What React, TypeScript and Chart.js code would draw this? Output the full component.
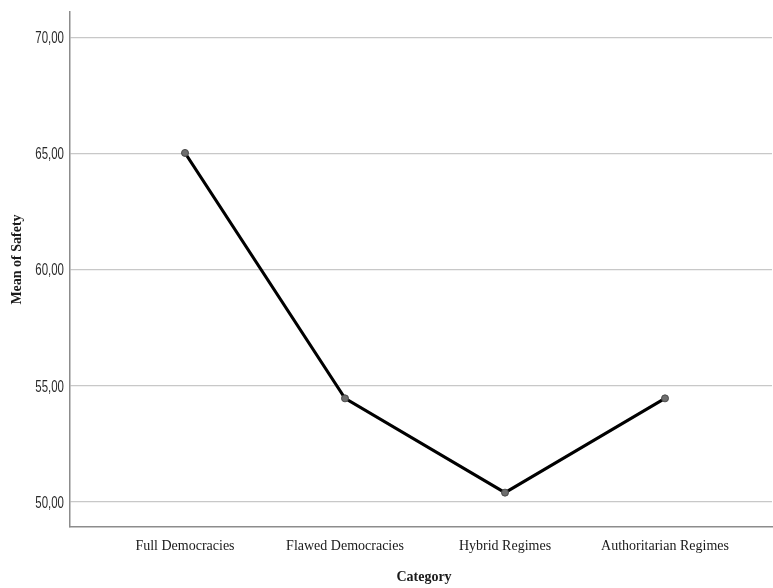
import React, { useEffect, useRef } from "react";
import { Chart, registerables } from "chart.js";

Chart.register(...registerables);

const categories = ["Full Democracies", "Flawed Democracies", "Hybrid Regimes", "Authoritarian Regimes"];
const meanSafety = [65.03, 54.46, 50.4, 54.46];
const yTicks = [50, 55, 60, 65, 70];
const xTitle = "Category";
const yTitle = "Mean of Safety";

const textPlugin = {
  id: "spssText",
  afterDraw(chart: any) {
    const ctx = chart.ctx as CanvasRenderingContext2D;
    const y = chart.scales.y;
    const x = chart.scales.x;
    // y tick labels, condensed
    ctx.save();
    ctx.fillStyle = "#2a2a2a";
    ctx.font = "17px 'Liberation Sans', sans-serif";
    ctx.textAlign = "right";
    ctx.textBaseline = "middle";
    for (const t of y.ticks) {
      const py = y.getPixelForValue(t.value);
      const label = Number(t.value).toFixed(2).replace(".", ",");
      ctx.save();
      ctx.translate(y.right - 6, py);
      ctx.scale(0.675, 1);
      ctx.fillText(label, 0, 1);
      ctx.restore();
    }
    ctx.restore();
    // titles
    ctx.save();
    ctx.fillStyle = "#1a1a1a";
    ctx.font = "bold 14px 'Liberation Serif', serif";
    ctx.textAlign = "center";
    ctx.textBaseline = "middle";
    ctx.fillText(xTitle, (x.left + x.right) / 2 + 3, 577);
    ctx.translate(17, (y.top + y.bottom) / 2 - 10);
    ctx.rotate(-Math.PI / 2);
    ctx.fillText(yTitle, 0, 0);
    ctx.restore();
  },
};

export default function App() {
  const ref = useRef<HTMLCanvasElement | null>(null);
  useEffect(() => {
    document.body.style.margin = "0";
    const ctx = ref.current!;
    const chart = new Chart(ctx, {
      type: "line",
      data: {
        datasets: [
          {
            data: meanSafety.map((v, i) => ({ x: i, y: v })),
            borderColor: "#000000",
            borderWidth: 3,
            pointRadius: 3.5,
            pointBackgroundColor: "#6e6e6e",
            pointBorderColor: "#4a4a4a",
            pointBorderWidth: 1,
            tension: 0,
          },
        ],
      },
      options: {
        animation: false,
        responsive: false,
        maintainAspectRatio: false,
        layout: { autoPadding: false, padding: { top: 12, right: 1, left: 0, bottom: 0 } },
        plugins: { legend: { display: false }, tooltip: { enabled: false } },
        scales: {
          x: {
            type: "linear",
            min: -0.71875,
            max: 3.66875,
            afterBuildTicks: (scale: any) => {
              scale.ticks = categories.map((_, i) => ({ value: i }));
            },
            afterFit: (scale: any) => {
              scale.height = 61;
            },
            grid: { display: false, drawTicks: false },
            border: { display: true, color: "#8c8c8c", width: 1.5 },
            ticks: {
              padding: 11,
              color: "#1a1a1a",
              font: { family: "'Liberation Serif', serif", size: 14 },
              callback: (v: any) => categories[v as number] ?? "",
              maxRotation: 0,
              autoSkip: false,
            },
            title: { display: false },
          },
          y: {
            type: "linear",
            min: 48.92,
            max: 71.1,
            afterBuildTicks: (scale: any) => {
              scale.ticks = yTicks.map((v) => ({ value: v }));
            },
            afterFit: (scale: any) => {
              scale.width = 70;
            },
            grid: { display: true, color: "#c8c8c8", lineWidth: 1.2, drawTicks: false },
            border: { display: true, color: "#8c8c8c", width: 1.5 },
            ticks: { display: false },
            title: { display: false },
          },
        },
      },
      plugins: [textPlugin],
    } as any);
    return () => chart.destroy();
  }, []);
  return (
    <div style={{ width: 773, height: 588 }}>
      <canvas ref={ref} width={773} height={588} style={{ display: "block" }} />
    </div>
  );
}
